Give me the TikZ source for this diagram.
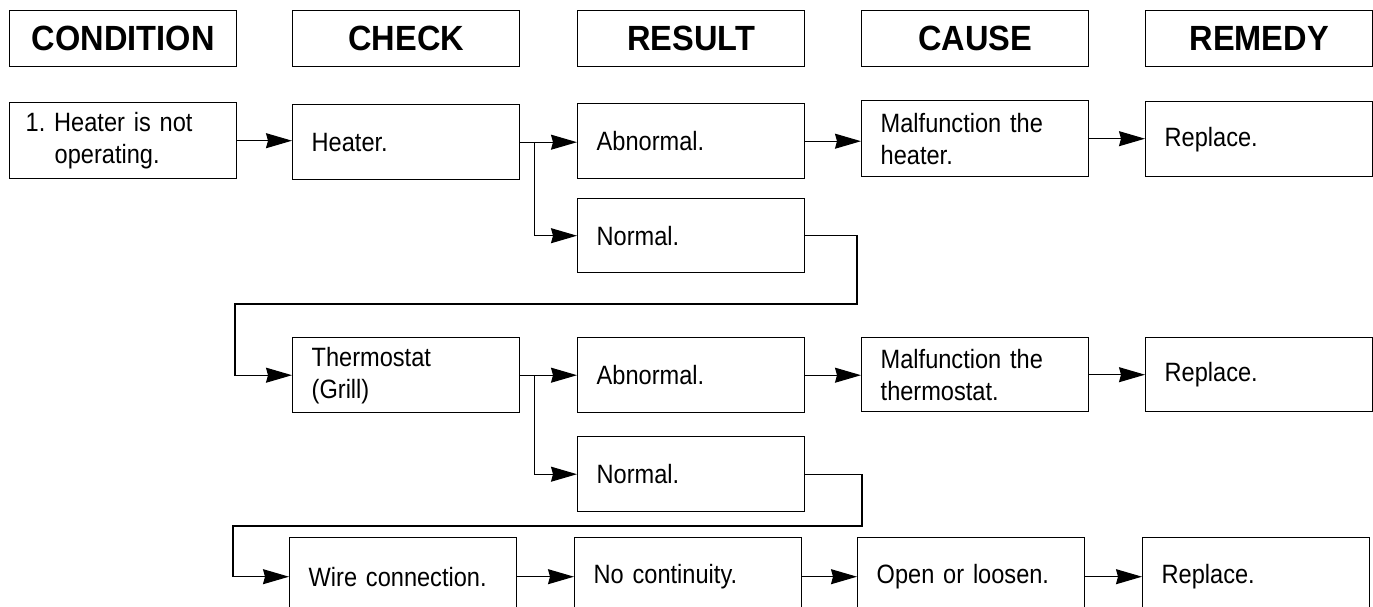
\documentclass[tikz,border=0pt]{standalone}
\usepackage{fontspec}
\usetikzlibrary{arrows.meta,calc}
\newfontfamily\bodyfam[FakeStretch=0.89]{Liberation Sans}
\newfontfamily\headfam[FakeStretch=0.93]{Liberation Sans}
\newcommand\bodyf{\bodyfam\fontsize{26.5}{32}\selectfont\frenchspacing}
\newcommand\headf{\headfam\bfseries\fontsize{35}{40}\selectfont}
\tikzset{
  hdr/.style={draw, line width=1.4pt, rectangle, inner sep=0pt, minimum width=227pt,
    minimum height=56pt, anchor=north west, font=\headf},
  box/.style={draw, line width=1.4pt, rectangle, inner xsep=19pt, inner ysep=0pt,
    text width=189pt, align=left, minimum height=#1, anchor=north west, font=\bodyf},
  box/.default=75pt,
  arr/.style={line width=1.2pt, -{Stealth[length=26pt,width=15pt,inset=2pt]}},
}
\begin{document}
\begin{tikzpicture}[x=1pt,y=-1pt]
\useasboundingbox (0,0) rectangle (1373,607);
\clip (0,0) rectangle (1373,607);
\fill[white] (0,0) rectangle (1373,607);
% headers
\node[hdr] (h1) at (9,10) {CONDITION};
\node[hdr] (h2) at (292,10) {CHECK};
\node[hdr] (h3) at (577,10) {RESULT};
\node[hdr] (h4) at (861,10) {CAUSE};
\node[hdr] (h5) at (1145,10) {REMEDY};
% row 1
\node[box=76pt, inner xsep=16pt, text width=195pt] (c1) at (9,102) {1. Heater is not\\\hspace*{29pt}operating.};
\node[box] (k1) at (292,104) {Heater.};
\node[box] (r1a) at (577,103) {Abnormal.};
\node[box=76pt] (u1) at (861,100) {Malfunction the\\heater.};
\node[box] (m1) at (1145,101) {Replace.};
\node[box=74pt] (r1n) at (577,198) {Normal.};
% row 2
\node[box] (k2) at (292,337) {Thermostat\\(Grill)};
\node[box] (r2a) at (577,337) {Abnormal.};
\node[box=74pt] (u2) at (861,337) {Malfunction the\\thermostat.};
\node[box=74pt] (m2) at (1145,337) {Replace.};
\node[box] (r2n) at (577,436) {Normal.};
% row 3
\node[box=78pt] (k3) at (289,537) {Wire connection.};
\node[box=78pt] (r3) at (574,537) {No continuity.};
\node[box=78pt] (u3) at (857,537) {Open or loosen.};
\node[box=78pt] (m3) at (1142,537) {Replace.};
% coordinates
\coordinate (b1) at ($(k1.east)+(14,0)$);
\coordinate (b2) at ($(k2.east)+(14,0)$);
\coordinate (p1) at (857,304);
\coordinate (q1) at (235,304);
\coordinate (p2) at (862,526);
\coordinate (q2) at (233,526);
% row 1 connectors
\draw[arr] (c1.east) -- (c1.east -| k1.west);
\draw[arr] (k1.east) -- (k1.east -| r1a.west);
\draw[arr] (b1) |- (r1n.west);
\draw[arr] (r1a.east) -- (r1a.east -| u1.west);
\draw[arr] (u1.east) -- (u1.east -| m1.west);
\draw[arr] (r1n.east) -| (p1) -- (q1) |- (k2.west);
% row 2 connectors
\draw[arr] (k2.east) -- (k2.east -| r2a.west);
\draw[arr] (b2) |- (r2n.west);
\draw[arr] (r2a.east) -- (r2a.east -| u2.west);
\draw[arr] (u2.east) -- (u2.east -| m2.west);
\draw[arr] (r2n.east) -| (p2) -- (q2) |- (k3.west);
% row 3 connectors
\draw[arr] (k3.east) -- (r3.west);
\draw[arr] (r3.east) -- (u3.west);
\draw[arr] (u3.east) -- (m3.west);
\end{tikzpicture}
\end{document}
